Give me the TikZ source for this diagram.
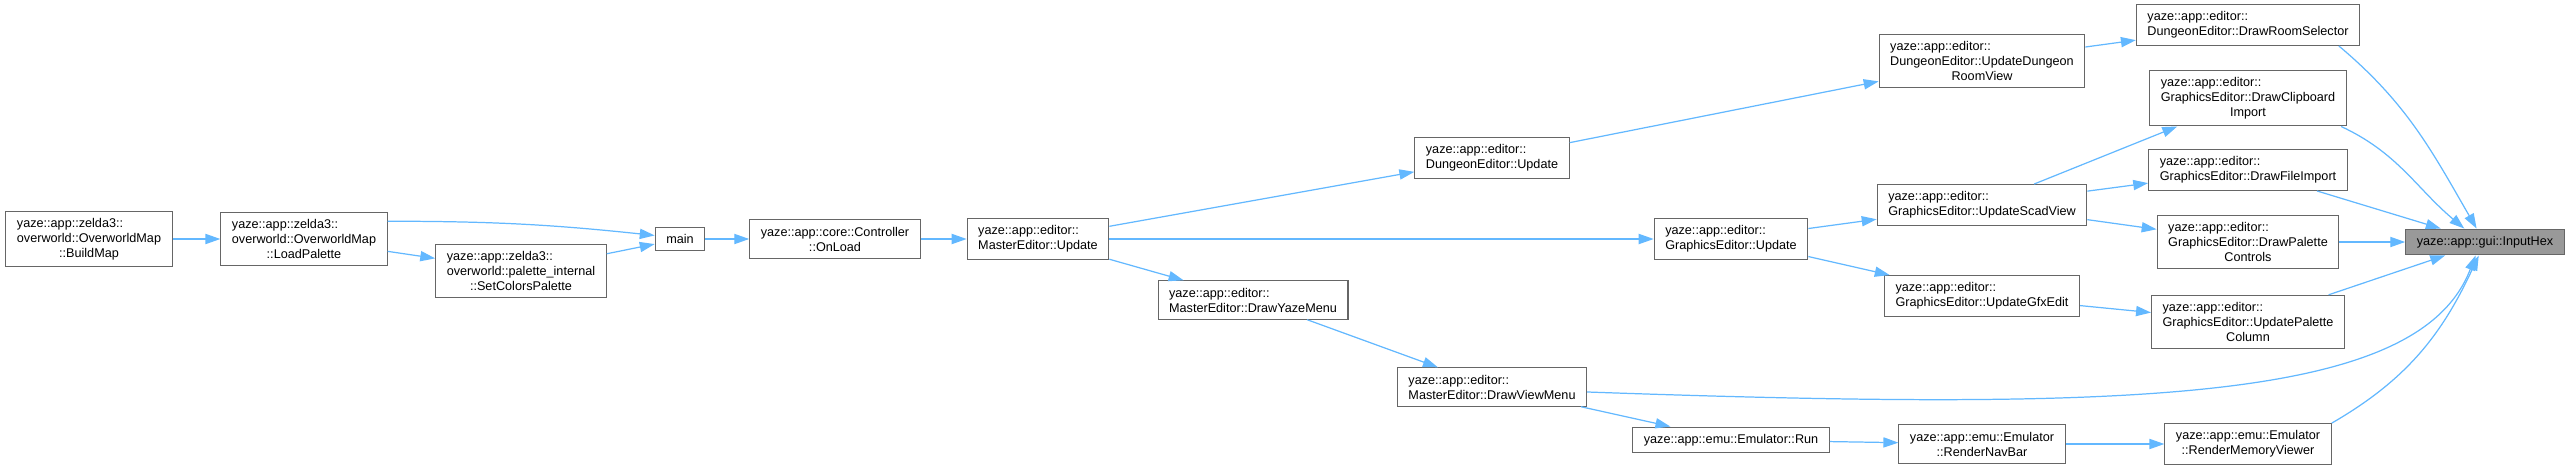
\documentclass[tikz,border=0pt]{standalone}
\usepackage{fontspec}
\setmainfont{Liberation Sans}
\usepackage{tikz}
\usetikzlibrary{arrows.meta,positioning}
\usepackage{xcolor}
\definecolor{callblue} {RGB}{99 ,184,255}
\definecolor{boxgray}  {RGB}{102,102,102}
\definecolor{hexgray}  {RGB}{153,153,153}

\begin{document}
\begin{tikzpicture}[
  x=0.02cm, y=-0.02cm,
  func/.style={draw=boxgray, fill=white, line width=0.6pt, align=left, inner xsep=6.3pt, inner ysep=4pt, font=\fontsize{7.2}{8.55}\selectfont},
  target/.style={func, fill=hexgray},
  callarrow/.style={-{Triangle[length=8.5pt,width=5.8pt]}, draw=callblue, line width=0.7pt}
]
  \useasboundingbox (0,0) rectangle (2569,470);

  % Nodes
  \node (buildmap) [func] at (89,239) {yaze::app::zelda3::\\overworld::OverworldMap\\\hfil ::BuildMap};
  \node (loadpal) [func] at (304,239) {yaze::app::zelda3::\\overworld::OverworldMap\\\hfil ::LoadPalette};
  \node (setcolors) [func] at (521,271) {yaze::app::zelda3::\\overworld::palette\_internal\\\hfil ::SetColorsPalette};
  \node (main) [func] at (680,239) {main};
  \node (onload) [func] at (835,239) {yaze::app::core::Controller\\\hfil ::OnLoad};
  \node (meupdate) [func] at (1038,239) {yaze::app::editor::\\MasterEditor::Update};

  \node (deupdate) [func] at (1492,158) {yaze::app::editor::\\DungeonEditor::Update};
  \node (yazemenu) [func] at (1253,300) {yaze::app::editor::\\MasterEditor::DrawYazeMenu};
  \node (viewmenu) [func] at (1492,387) {yaze::app::editor::\\MasterEditor::DrawViewMenu};

  \node (geupdate) [func] at (1731,239) {yaze::app::editor::\\GraphicsEditor::Update};
  \node (emurun) [func] at (1731,440) {yaze::app::emu::Emulator::Run};

  \node (roomview) [func] at (1982,61) {yaze::app::editor::\\DungeonEditor::UpdateDungeon\\\hfil RoomView};
  \node (scadview) [func] at (1982,205) {yaze::app::editor::\\GraphicsEditor::UpdateScadView};
  \node (gfxedit) [func] at (1982,296) {yaze::app::editor::\\GraphicsEditor::UpdateGfxEdit};
  \node (navbar) [func] at (1982,444) {yaze::app::emu::Emulator\\\hfil ::RenderNavBar};

  \node (roomsel) [func] at (2248,25) {yaze::app::editor::\\DungeonEditor::DrawRoomSelector};
  \node (clipimport) [func] at (2248,98) {yaze::app::editor::\\GraphicsEditor::DrawClipboard\\\hfil Import};
  \node (fileimport) [func] at (2248,170) {yaze::app::editor::\\GraphicsEditor::DrawFileImport};
  \node (palctrl) [func] at (2248,242) {yaze::app::editor::\\GraphicsEditor::DrawPalette\\\hfil Controls};
  \node (palcol) [func] at (2248,322) {yaze::app::editor::\\GraphicsEditor::UpdatePalette\\\hfil Column};
  \node (memview) [func] at (2248,444) {yaze::app::emu::Emulator\\\hfil ::RenderMemoryViewer};

  \node (inputhex) [target] at (2485,242) {yaze::app::gui::InputHex};

  % Paths
  \draw [callarrow] (buildmap) -- (loadpal);
  \draw [callarrow] (loadpal.12) to[bend left=3] (main.172);
  \draw [callarrow] (loadpal) -- (setcolors);
  \draw [callarrow] (setcolors) -- (main);
  \draw [callarrow] (main) -- (onload);
  \draw [callarrow] (onload) -- (meupdate);

  \draw [callarrow] (meupdate) -- (deupdate);
  \draw [callarrow] (meupdate) -- (geupdate);
  \draw [callarrow] (meupdate) -- (yazemenu);
  \draw [callarrow] (yazemenu) -- (viewmenu);

  \draw [callarrow] (deupdate) -- (roomview);
  \draw [callarrow] (geupdate) -- (scadview);
  \draw [callarrow] (geupdate) -- (gfxedit);
  \draw [callarrow] (viewmenu) -- (emurun);
  \draw [callarrow] (emurun) -- (navbar);

  \draw [callarrow] (roomview) -- (roomsel);
  \draw [callarrow] (scadview) -- (clipimport);
  \draw [callarrow] (scadview) -- (fileimport);
  \draw [callarrow] (scadview) -- (palctrl);
  \draw [callarrow] (gfxedit) -- (palcol);
  \draw [callarrow] (navbar) -- (memview);

  \draw [callarrow] (roomsel.-13) to[out=-40, in=120] (inputhex.122);
  \draw [callarrow] (clipimport.-17) to[out=-25, in=140] (inputhex.147);
  \draw [callarrow] (fileimport) -- (inputhex);
  \draw [callarrow] (palctrl) -- (inputhex);
  \draw [callarrow] (palcol) -- (inputhex);
  \draw [callarrow] (viewmenu.-3) .. controls (2150,412) and (2420,400) .. (inputhex.-125);
  \draw [callarrow] (memview.14) to[out=30, in=-115] (inputhex.-115);
\end{tikzpicture}
\end{document}
